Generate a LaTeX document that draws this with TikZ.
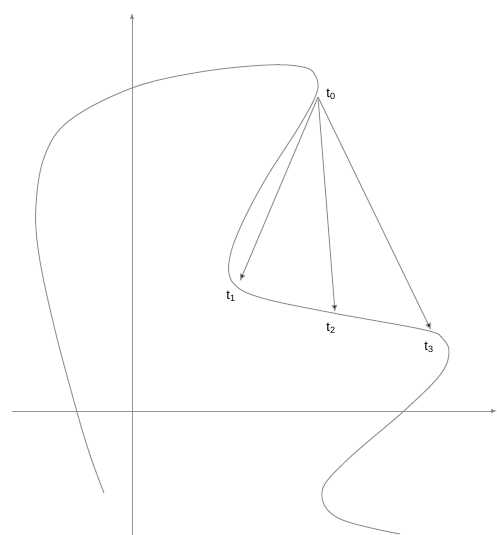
\documentclass[tikz,border=0pt]{standalone}
\usepackage{fontspec}
\setmainfont{Liberation Sans}
\usetikzlibrary{arrows.meta}
\definecolor{curvegray}{HTML}{939393}

\begin{document}
\begin{tikzpicture}[x=1pt, y=-1pt, font=\fontsize{13}{15}\selectfont,
    axis/.style={draw=curvegray, line width=1pt, -{Latex[length=6pt, width=4.5pt, fill=black]}},
    tangent/.style={draw=curvegray, line width=1pt, -{Latex[length=7pt, width=6pt, fill=black]}},
    path/.style={draw=curvegray, line width=1pt}]
						\useasboundingbox (0,0) rectangle (497,535);
						% axes
						\coordinate (ybot) at (132,535);
						\coordinate (ytop) at (132,13);
						\coordinate (xleft) at (12,411);
						\coordinate (xright) at (497,411);
						\draw[axis] (ybot) -- (ytop);
						\draw[axis] (xleft) -- (xright);
						% the trajectory
						\draw[path] plot[smooth, tension=0.6] coordinates {
							(104,493) (90,455) (77,412) (55,330) (39,255) (36,205) (45,155) (70,120)
							(132,88) (200,72) (267,65) (303,67) (315,75) (317,92) (300,125) (265,180)
							(240,228) (229,262) (234,284) (262,298) (333,313) (425,330)
							(443,339) (449,353) (440,375) (405,410) (345,462) (322,492) (338,518) (400,534)};
						% points on the path
						\coordinate (t0) at (318,97);
						\coordinate (t1) at (240,281);
						\coordinate (t2) at (335,312);
						\coordinate (t3) at (431,330);
						\node (lt0) at (331,94) {t\textsubscript{0}};
						\node (lt1) at (231,296) {t\textsubscript{1}};
						\node (lt2) at (331,328) {t\textsubscript{2}};
						\node (lt3) at (429,347) {t\textsubscript{3}};
						\foreach \n in {t1, t2, t3}
						\draw[tangent] (t0) -- (\n);
					\end{tikzpicture}
\end{document}
